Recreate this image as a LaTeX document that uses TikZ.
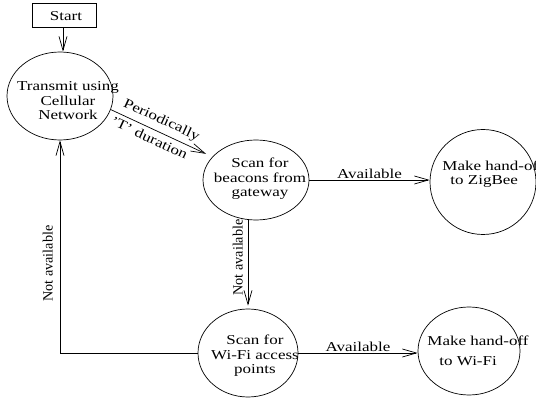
\documentclass[tikz,border=0pt]{standalone}
\usepackage{fontspec}
\setmainfont{Liberation Serif}[FakeStretch=1.25]
\newfontfamily\uprightlabel{Liberation Serif}
\usepackage{tikz}
\usetikzlibrary{calc,arrows.meta,positioning}
\usetikzlibrary{shapes.geometric}

\begin{document}
\begin{tikzpicture}[
    x=1pt,
    y=-1pt,
    >={Straight Barb[length=14pt,width=8pt]},
    every node/.style={font=\fontsize{13.6}{14.5}\selectfont},
    state/.style={
        ellipse,
        draw=black,
        line width=0.7pt,
        inner sep=0pt
    },
    startbox/.style={
        rectangle,
        draw=black,
        line width=0.7pt,
        minimum width=64pt,
        minimum height=24pt
    },
    statetext/.style={align=center,inner sep=0pt},
    flow/.style={line width=0.7pt,->},
    lbl/.style={inner sep=1pt},
    vlbl/.style={
        rotate=90,
        anchor=south,
        font=\uprightlabel\fontsize{14.2}{15}\selectfont
    }
]

\useasboundingbox (0,0) rectangle (536,398);

% ---------------------------------------------------------
% Start and states
% ---------------------------------------------------------

\node[startbox] (start) at (64,15) {};
\node[statetext] (starttxt) at (66,16) {Start};

\node[state,minimum width=106pt,minimum height=88pt] (tx) at (60,96) {};
\node[statetext] (txtxt) at (68,101)
    {Transmit using\\Cellular\\Network};

\node[state,minimum width=106pt,minimum height=80pt] (bc) at (256,180) {};
\node[statetext] (bctxt) at (260,179)
    {Scan for\\beacons from\\gateway};

\node[state,minimum width=106pt,minimum height=105pt] (zb) at (483,182) {};
\node[statetext,align=left] (zbtxt) at (493,174)
    {Make hand-off\\\hspace*{8pt}to ZigBee};

\node[state,minimum width=100pt,minimum height=88pt] (ws) at (248,353) {};
\node[statetext] (wstxt) at (255,356)
    {Scan for\\Wi-Fi access\\points};

\node[state,minimum width=102pt,minimum height=88pt] (wh) at (469,351) {};
\node[statetext,align=left] (whtxt) at (478,351)
    {Make hand-off\\[6pt]\hspace*{12pt}to Wi-Fi};

% ---------------------------------------------------------
% Transitions
% ---------------------------------------------------------

\draw[flow] (start.south -| 63,0) -- (63,0 |- tx.north);

\draw[flow,shorten >=7pt]
    (tx.-15) -- (bc.152)
    node[lbl,pos=0.45,sloped,above=4pt] {Periodically}
    node[lbl,pos=0.42,sloped,below=3pt] {'T' duration};

\draw[flow] (bc.east) -- (bc.east -| zb.west)
    node[lbl,midway,above] {Available};

\draw[flow,shorten >=3pt] (ws.north |- bc.south) -- (ws.north)
    node[vlbl,pos=0.42,inner sep=5pt] {Not available};

\draw[flow] (ws.east) -- (ws.east -| wh.west)
    node[lbl,midway,above] {Available};

\draw[flow] (ws.west) -| (tx.south)
    node[vlbl,pos=0.71,inner sep=7pt] {Not available};

\end{tikzpicture}
\end{document}
